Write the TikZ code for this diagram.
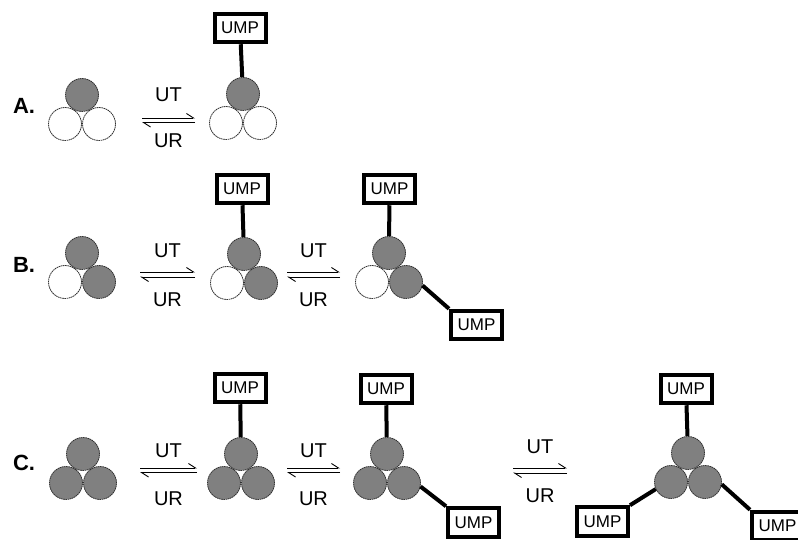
\documentclass[tikz,border=0pt]{standalone}
\usepackage{fontspec}
\setmainfont{Liberation Sans}
\usetikzlibrary{arrows.meta}
\definecolor{beadgray}{RGB}{128,128,128}
\definecolor{beadline}{RGB}{50,50,50}
\tikzset{
  bead/.style={circle,minimum size=33pt,inner sep=0pt,draw=beadline,line width=0.8pt,dash pattern=on 1.6pt off 0.6pt},
  umpbox/.style={draw=black,fill=white,line width=4pt,minimum width=51pt,minimum height=28.5pt,inner sep=0pt,font=\fontsize{17}{19}\selectfont},
  link/.style={line width=4pt,draw=black},
  harp/.style={line width=0.9pt,-{Straight Barb[left,length=7pt,width=9pt]}},
  lab/.style={inner sep=0pt,font=\fontsize{20}{24}\selectfont},
  rowlab/.style={inner sep=0pt,font=\bfseries\fontsize{22}{26}\selectfont}
}
\newcommand\trimer[6]{%
  \node[bead,fill=#4] (#1t) at (#2,#3-29) {};
  \node[bead,fill=#5] (#1l) at (#2-17,#3) {};
  \node[bead,fill=#6] (#1r) at (#2+17,#3) {};}
\newcommand\eqarrows[7]{%
  \coordinate (#1a) at (#2,#4); \coordinate (#1b) at (#3,#4);
  \coordinate (#1c) at (#3,#5); \coordinate (#1d) at (#2,#5);
  \draw[harp] (#1a) -- (#1b);
  \draw[harp] (#1c) -- (#1d);
  \node[lab] (#1ut) at ({(#2+#3)/2},#6) {UT};
  \node[lab] (#1ur) at ({(#2+#3)/2},#7) {UR};}
\begin{document}
\begin{tikzpicture}[x=1pt,y=-1pt]
\useasboundingbox (0,0) rectangle (798,540);
\clip (0,0) rectangle (798,540);
% row labels
\node[rowlab] (labA) at (24,106) {A.};
\node[rowlab] (labB) at (24,265) {B.};
\node[rowlab] (labC) at (24,463) {C.};
% Row A
\trimer{a1}{82}{124}{beadgray}{white}{white}
\eqarrows{ea}{142}{195}{118}{122.5}{95}{141}
\trimer{a2}{243}{123}{beadgray}{white}{white}
\node[umpbox] (ua2) at (240,28) {UMP};
\draw[link] (ua2) -- (a2t);
% Row B
\trimer{b1}{82}{282}{beadgray}{white}{beadgray}
\eqarrows{eb1}{140}{195}{272}{277}{251}{300}
\trimer{b2}{244}{283}{beadgray}{white}{beadgray}
\node[umpbox] (ub2) at (242,189) {UMP};
\draw[link] (ub2) -- (b2t);
\eqarrows{eb2}{287}{340}{272}{277}{251}{300}
\trimer{b3}{389}{282}{beadgray}{white}{beadgray}
\node[umpbox] (ub3t) at (389.5,189) {UMP};
\node[umpbox] (ub3r) at (476.5,325) {UMP};
\draw[link] (ub3t) -- (b3t);
\draw[link] (b3r.-12) -- (ub3r.north west);
% Row C
\trimer{c1}{83}{483}{beadgray}{beadgray}{beadgray}
\eqarrows{ec1}{140}{197}{468}{472.5}{451}{499}
\trimer{c2}{241}{483}{beadgray}{beadgray}{beadgray}
\node[umpbox] (uc2) at (240,388) {UMP};
\draw[link] (uc2) -- (c2t);
\eqarrows{ec2}{287}{340}{468}{472.5}{451}{499}
\trimer{c3}{387}{483}{beadgray}{beadgray}{beadgray}
\node[umpbox] (uc3t) at (386,389) {UMP};
\node[umpbox] (uc3r) at (473.5,522.5) {UMP};
\draw[link] (uc3t) -- (c3t);
\draw[link] (c3r.-12) -- (uc3r.north west);
\eqarrows{ec3}{513}{567}{468}{473}{447}{496}
\trimer{c4}{688}{482}{beadgray}{beadgray}{beadgray}
\node[umpbox] (uc4t) at (686,389) {UMP};
\node[umpbox] (uc4l) at (602.5,521.5) {UMP};
\node[umpbox] (uc4r) at (777.5,526) {UMP};
\draw[link] (uc4t) -- (c4t);
\draw[link] (c4l.205) -- (uc4l.north east);
\draw[link] (c4r.-8) -- (uc4r.north west);
\end{tikzpicture}
\end{document}
